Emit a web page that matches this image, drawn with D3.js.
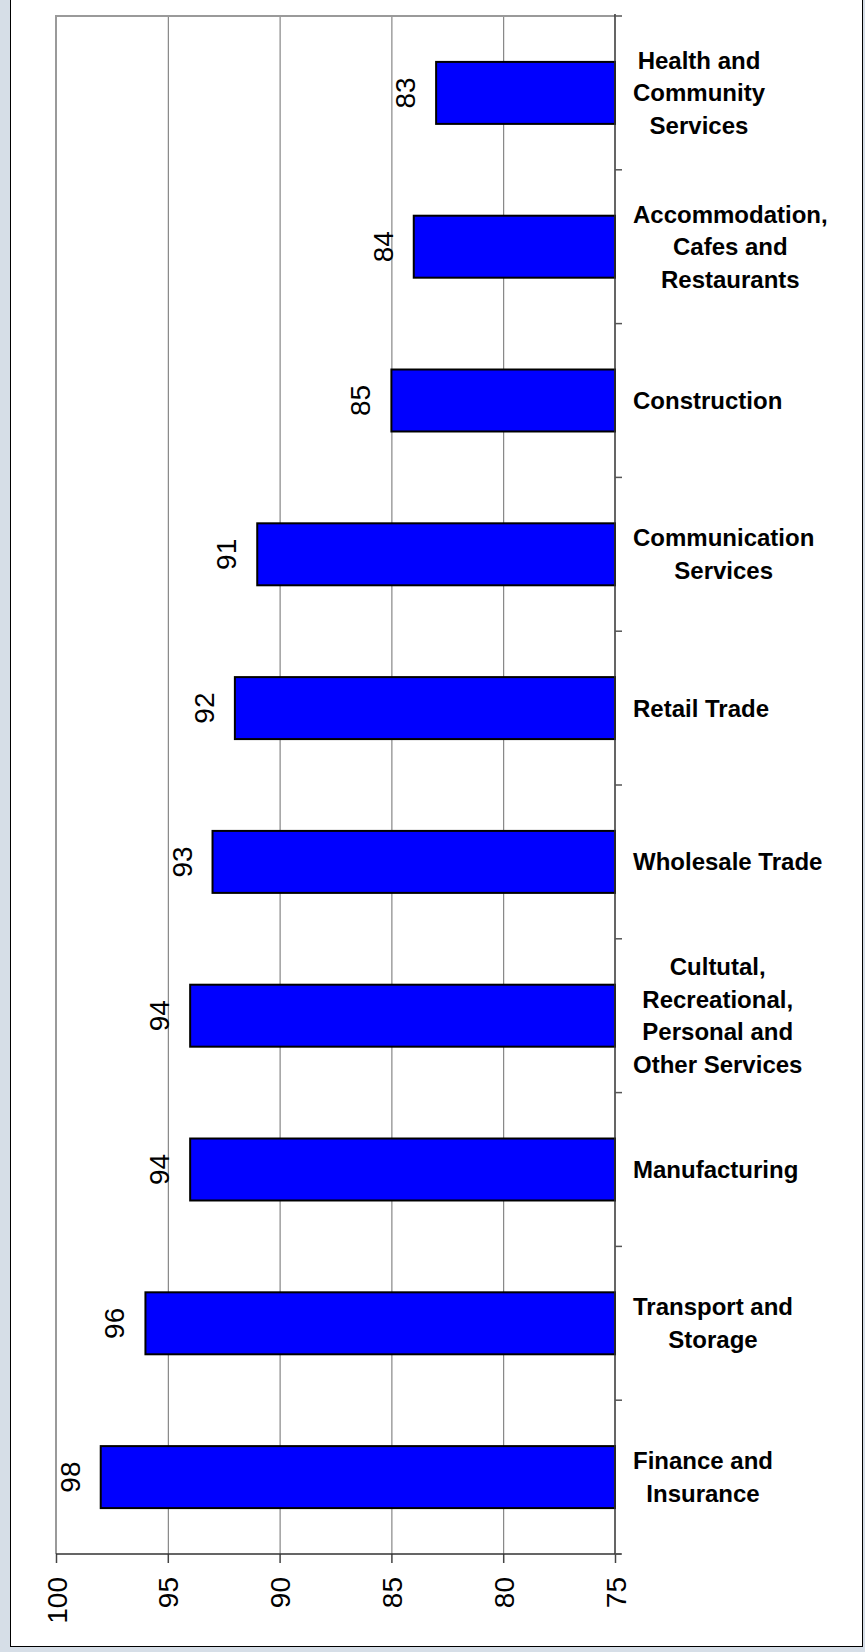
<!DOCTYPE html>
<html>
<head>
<meta charset="utf-8">
<script src="https://cdn.jsdelivr.net/npm/d3@7"></script>
<style>
  body { margin: 0; background: #d6dee7; }
  svg { display: block; }
</style>
</head>
<body>
<div id="chart"></div>
<script>
// Categories, top to bottom, with the line breaks used in the labels
let categories = [
    "Health and|Community|Services",
    "Accommodation,|Cafes and|Restaurants",
    "Construction",
    "Communication|Services",
    "Retail Trade",
    "Wholesale Trade",
    "Cultutal,|Recreational,|Personal and|Other Services",
    "Manufacturing",
    "Transport and|Storage",
    "Finance and|Insurance"
];
let values = [83, 84, 85, 91, 92, 93, 94, 94, 96, 98];
let tickValues = [100, 95, 90, 85, 80, 75];

// Chart size
let width = 865,
    height = 1652;
let plot = {
    left: 56,
    right: 615,
    top: 16,
    bottom: 1554
};

let svg = d3.select("#chart")
    .append("svg")
    .attr("width", width)
    .attr("height", height);

// White panel with black border
svg.append("rect")
    .attr("x", 10.5)
    .attr("y", -5)
    .attr("width", 852)
    .attr("height", 1651.5)
    .attr("fill", "#fff")
    .attr("stroke", "#000")
    .attr("stroke-width", 1);

// Scales: value axis runs right to left, 75 at the right
let x = d3.scaleLinear()
    .domain([75, 100])
    .range([plot.right, plot.left]);

let y = d3.scaleBand()
    .domain(categories)
    .range([plot.top, plot.bottom])
    .padding(0);

// Gridlines
svg.append("g")
    .selectAll("line")
    .data(tickValues.filter(d => d != 75 && d != 100))
    .enter().append("line")
    .attr("x1", d => x(d) + 0.5)
    .attr("x2", d => x(d) + 0.5)
    .attr("y1", plot.top)
    .attr("y2", plot.bottom)
    .attr("stroke", "#6e6e6e")
    .attr("stroke-width", 1);

// Plot frame, top and left (grey)
svg.append("path")
    .attr("d", `M${plot.left},${plot.bottom} V${plot.top} H${plot.right}`)
    .attr("fill", "none")
    .attr("stroke", "#9a9a9a")
    .attr("stroke-width", 2);

// Bars
let barH = y.bandwidth() * 0.403;
svg.append("g")
    .selectAll("rect")
    .data(values)
    .enter().append("rect")
    .attr("x", d => x(d))
    .attr("y", (d, i) => y(categories[i]) + (y.bandwidth() - barH) / 2)
    .attr("width", d => x(75) - x(d))
    .attr("height", barH)
    .attr("fill", "#0000ff")
    .attr("stroke", "#000")
    .attr("stroke-width", 2);

// Value labels, rotated
svg.append("g")
    .selectAll("text")
    .data(values)
    .enter().append("text")
    .attr("transform", (d, i) =>
        `translate(${x(d) - 21}, ${y(categories[i]) + y.bandwidth() / 2}) rotate(-90)`)
    .attr("text-anchor", "middle")
    .attr("font-family", "Liberation Sans, Arial, sans-serif")
    .attr("font-size", "28px")
    .attr("fill", "#000")
    .text(d => d);

// Bottom axis
let xaxis = svg.append("g")
    .attr("transform", `translate(0, ${plot.bottom})`)
    .call(d3.axisBottom(x)
        .tickValues(tickValues)
        .tickSize(9)
        .tickSizeOuter(0));
xaxis.select(".domain").remove();
xaxis.selectAll(".tick line")
    .attr("stroke", "#444")
    .attr("stroke-width", 1.5);
xaxis.selectAll(".tick text")
    .attr("font-family", "Liberation Sans, Arial, sans-serif")
    .attr("font-size", "28px")
    .attr("fill", "#000")
    .attr("text-anchor", "end")
    .attr("x", -23)
    .attr("y", 0)
    .attr("dy", "0.36em")
    .attr("transform", "rotate(-90)");

// Axis lines (bottom and right)
svg.append("path")
    .attr("d", `M${plot.left},${plot.bottom} H${plot.right + 6} M${plot.right},${plot.top - 2} V${plot.bottom}`)
    .attr("fill", "none")
    .attr("stroke", "#333")
    .attr("stroke-width", 1.5);

// Category tick marks at the band edges
let edges = categories.map(c => y(c)).concat([plot.bottom]);
svg.append("g")
    .selectAll("line")
    .data(edges)
    .enter().append("line")
    .attr("x1", plot.right)
    .attr("x2", plot.right + 7)
    .attr("y1", d => d)
    .attr("y2", d => d)
    .attr("stroke", "#555")
    .attr("stroke-width", 1.5);

// Category labels: block left aligned, lines centred in the block
let lineH = 32.5;
let labels = svg.append("g")
    .attr("font-family", "Liberation Sans, Arial, sans-serif")
    .attr("font-size", "24px")
    .attr("font-weight", "bold")
    .attr("fill", "#000");

categories.forEach(function (c) {
    let lines = c.split("|");
    let g = labels.append("g");
    let cy = y(c) + y.bandwidth() / 2;
    let texts = g.selectAll("text")
        .data(lines)
        .enter().append("text")
        .attr("text-anchor", "middle")
        .attr("y", (d, i) => cy + (i - (lines.length - 1) / 2) * lineH)
        .attr("dy", "0.35em")
        .text(d => d);
    let maxW = d3.max(texts.nodes(), n => n.getComputedTextLength());
    texts.attr("x", 633 + maxW / 2);
});
</script>
</body>
</html>
